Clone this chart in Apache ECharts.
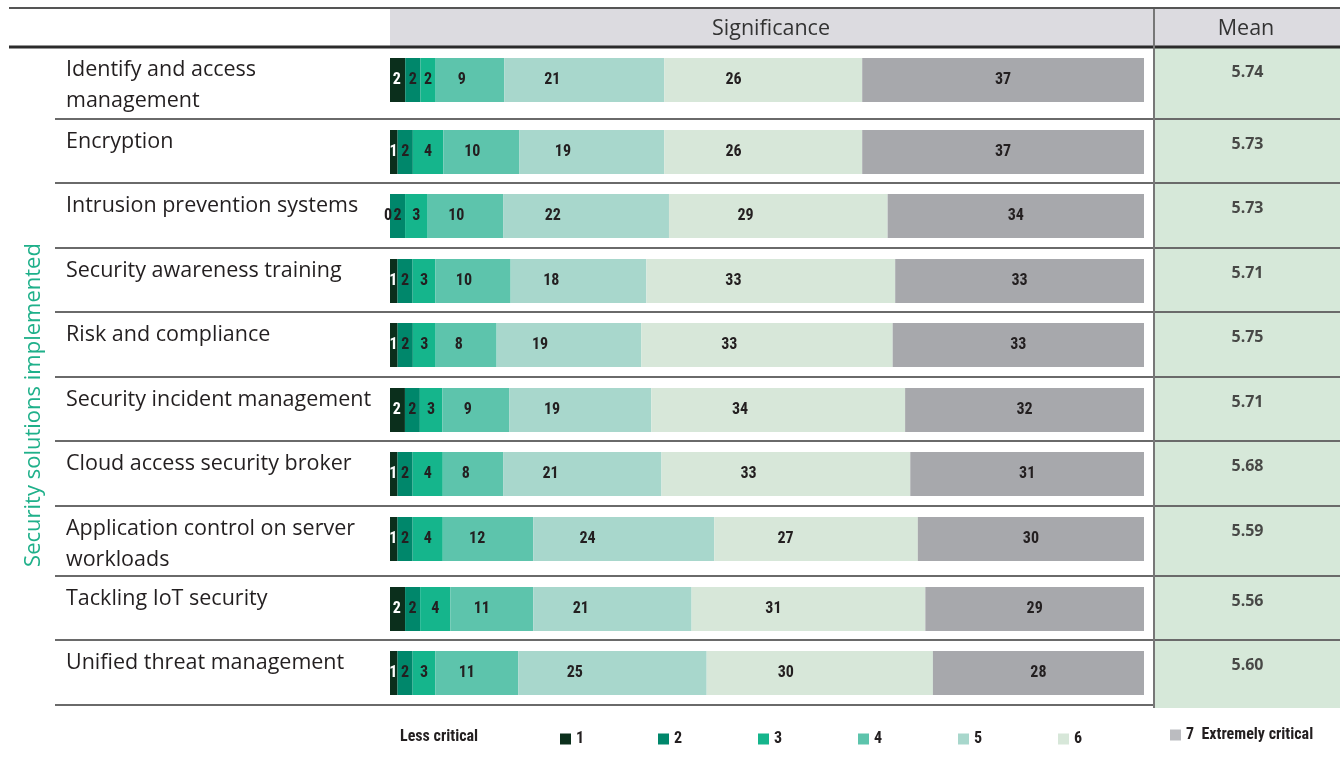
<!DOCTYPE html>
<html>
<head>
<meta charset="utf-8">
<script src="https://cdn.jsdelivr.net/npm/echarts@6/dist/echarts.min.js"></script>
<style>
html,body{margin:0;padding:0;background:#fff;}
#chart{width:1340px;height:757px;}
</style>
</head>
<body>
<div id="chart"></div>
<script>
// ---- data ----
const categories = [
  'Identify and access\nmanagement',
  'Encryption',
  'Intrusion prevention systems',
  'Security awareness training',
  'Risk and compliance',
  'Security incident management',
  'Cloud access security broker',
  'Application control on server\nworkloads',
  'Tackling IoT security',
  'Unified threat management'
];
const level1 = [2, 1, 0, 1, 1, 2, 1, 1, 2, 1];
const level2 = [2, 2, 2, 2, 2, 2, 2, 2, 2, 2];
const level3 = [2, 4, 3, 3, 3, 3, 4, 4, 4, 3];
const level4 = [9, 10, 10, 10, 8, 9, 8, 12, 11, 11];
const level5 = [21, 19, 22, 18, 19, 19, 21, 24, 21, 25];
const level6 = [26, 26, 29, 33, 33, 34, 33, 27, 31, 30];
const level7 = [37, 37, 34, 33, 33, 32, 31, 30, 29, 28];
const means = [5.74, 5.73, 5.73, 5.71, 5.75, 5.71, 5.68, 5.59, 5.56, 5.60];
const levelNames = ['1', '2', '3', '4', '5', '6', '7'];
const levelLegendText = {'7': '7  Extremely critical'};

// ---- style / layout ----
const levels = [level1, level2, level3, level4, level5, level6, level7];
const colors = ['#0b2f1c', '#00876b', '#15b58c', '#5dc4ac', '#a8d7cc', '#d7e7d9', '#a7a8ac'];
const labelColors = ['#ffffff', '#231f20', '#231f20', '#231f20', '#231f20', '#231f20', '#231f20'];
const labelPos = ['45%', '50%', '50%', '38%', '30%', '35%', '50%'];
const legendLefts = [555, 653, 753, 853, 953, 1053, 1165];
const rowTops = [47, 119, 183, 248, 312, 377, 441, 506, 576, 640];
const tableBottom = 705;
const barLeft = 390, barRight = 1144, barOffset = 11, barH = 44;
const meanLeft = 1155, meanRight = 1340;
const condensed = '"Liberation Sans Narrow", "Roboto Condensed", "DejaVu Sans Condensed", "Open Sans", sans-serif';
const mainFont = '"Open Sans", "Noto Sans", sans-serif';

const grids = [], xAxes = [], yAxes = [], series = [];
categories.forEach((cat, i) => {
  const total = levels.reduce((s, arr) => s + arr[i], 0);
  grids.push({left: barLeft, width: barRight - barLeft, top: rowTops[i] + barOffset, height: barH});
  xAxes.push({gridIndex: 2 * i, type: 'value', min: 0, max: total, show: false});
  yAxes.push({gridIndex: 2 * i, type: 'category', data: [cat], show: false});
  grids.push({left: meanLeft, width: meanRight - meanLeft, top: rowTops[i] + barOffset, height: barH});
  xAxes.push({gridIndex: 2 * i + 1, type: 'category', data: ['Mean'], show: false});
  yAxes.push({gridIndex: 2 * i + 1, type: 'category', data: [cat], show: false});

  levels.forEach((arr, k) => {
    const v = arr[i];
    const itemLabel = v > 0 ? {color: labelColors[k]} : {color: '#231f20', offset: [-2, 0]};
    series.push({
      type: 'bar',
      name: levelNames[k],
      xAxisIndex: 2 * i,
      yAxisIndex: 2 * i,
      stack: 'row' + i,
      barWidth: barH,
      data: [{value: v, label: itemLabel}],
      itemStyle: {color: colors[k]},
      emphasis: {disabled: true},
      label: {
        show: true,
        position: [labelPos[k], '50%'],
        align: 'center',
        verticalAlign: 'middle',
        formatter: '{c}',
        fontFamily: condensed,
        fontWeight: 'bold',
        fontSize: 16
      }
    });
  });
  series.push({
    type: 'scatter',
    xAxisIndex: 2 * i + 1,
    yAxisIndex: 2 * i + 1,
    symbolSize: 1,
    itemStyle: {color: 'rgba(0,0,0,0)'},
    silent: true,
    data: [['Mean', cat, means[i]]],
    encode: {x: 0, y: 1},
    label: {
      show: true,
      position: 'inside',
      offset: [0, -8],
      formatter: p => p.value[2].toFixed(2),
      color: '#231f20',
      fontFamily: mainFont,
      fontWeight: 'bold',
      fontSize: 16
    }
  });
});

const graphics = [];
graphics.push({type: 'rect', z: -10, shape: {x: barLeft, y: 9, width: 1340 - barLeft, height: 38}, style: {fill: '#dcdbe0'}});
graphics.push({type: 'rect', z: -10, shape: {x: meanLeft, y: 47, width: meanRight - meanLeft, height: tableBottom + 3 - 47}, style: {fill: '#d6e8d9'}});
graphics.push({type: 'line', z: -5, shape: {x1: 9, y1: 8, x2: 1340, y2: 8}, style: {stroke: '#555', lineWidth: 2}});
graphics.push({type: 'line', z: -5, shape: {x1: 9, y1: 47, x2: 1340, y2: 47}, style: {stroke: '#2b2b2b', lineWidth: 3}});
for (let i = 1; i < rowTops.length; i++) {
  graphics.push({type: 'line', z: -5, shape: {x1: 55, y1: rowTops[i], x2: 1340, y2: rowTops[i]}, style: {stroke: '#6a6a6a', lineWidth: 2}});
}
graphics.push({type: 'line', z: -5, shape: {x1: 55, y1: tableBottom, x2: 1154, y2: tableBottom}, style: {stroke: '#6a6a6a', lineWidth: 2}});
graphics.push({type: 'line', z: -4, shape: {x1: 1154, y1: 9, x2: 1154, y2: tableBottom + 3}, style: {stroke: '#777', lineWidth: 2}});
graphics.push({type: 'text', style: {text: 'Significance', x: 771, y: 29, align: 'center', verticalAlign: 'middle', fontFamily: mainFont, fontSize: 21.5, fill: '#333'}});
graphics.push({type: 'text', style: {text: 'Mean', x: 1246, y: 29, align: 'center', verticalAlign: 'middle', fontFamily: mainFont, fontSize: 21.5, fill: '#333'}});
graphics.push({type: 'text', x: 34, y: 405, rotation: Math.PI / 2, style: {text: 'Security solutions implemented', x: 0, y: 0, align: 'center', verticalAlign: 'middle', fontFamily: mainFont, fontSize: 22, fill: '#1fb08a'}});
categories.forEach((cat, i) => {
  graphics.push({type: 'text', style: {text: cat, x: 66, y: rowTops[i] + barOffset + barH / 2 - 10 - 15.5, align: 'left', verticalAlign: 'top', lineHeight: 31, fontFamily: mainFont, fontSize: 21.5, fill: '#231f20'}});
});
graphics.push({type: 'text', style: {text: 'Less critical', x: 400, y: 737, align: 'left', verticalAlign: 'middle', fontFamily: condensed, fontWeight: 'bold', fontSize: 16, fill: '#231f20'}});

const legends = levelNames.map((n, k) => ({
  data: k === 6 ? [{name: n, itemStyle: {color: '#bbbcc0'}}] : [n],
  formatter: name => levelLegendText[name] || name,
  left: legendLefts[k],
  top: k === 6 ? 722 : 726,
  icon: 'rect',
  itemWidth: 11, itemHeight: 11,
  selectedMode: false,
  textStyle: {fontFamily: condensed, fontWeight: 'bold', fontSize: 16, color: '#231f20'}
}));

const chart = echarts.init(document.getElementById('chart'), null, {renderer: 'canvas'});
chart.setOption({
  animation: false,
  backgroundColor: '#ffffff',
  grid: grids,
  xAxis: xAxes,
  yAxis: yAxes,
  legend: legends,
  graphic: graphics,
  series: series
});
</script>
</body>
</html>
